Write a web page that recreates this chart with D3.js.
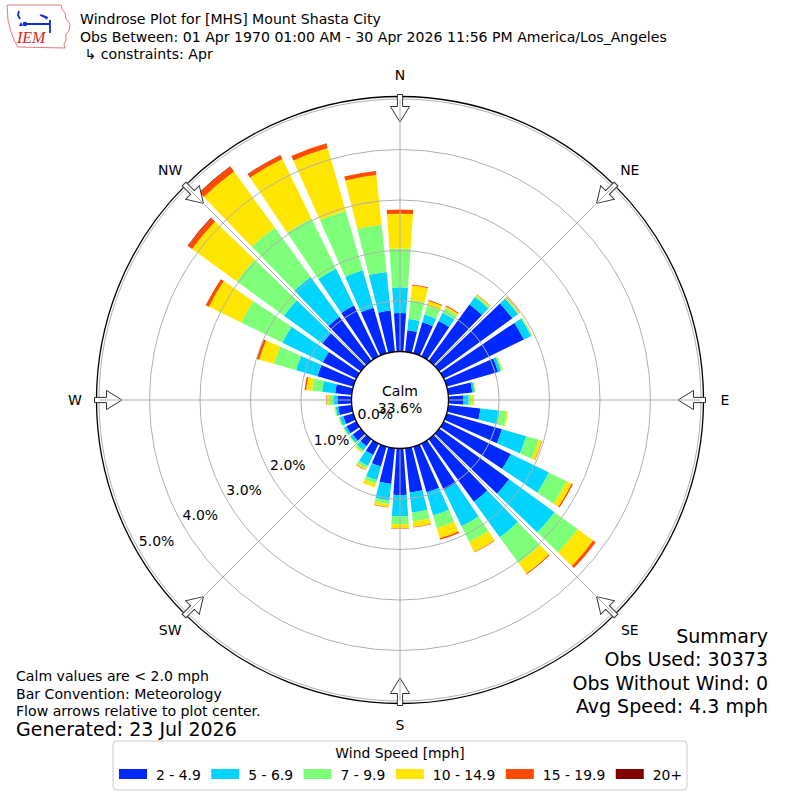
<!DOCTYPE html>
<html><head><meta charset="utf-8">
<script src="https://cdn.jsdelivr.net/npm/d3@7"></script>
<style>body{margin:0;background:#fff} svg text{font-family:"DejaVu Sans",sans-serif;fill:#000}</style>
</head><body><svg id="chart" width="800" height="800"></svg>
<script>
// ---------------- data ----------------
const directions = [0,10,20,30,40,50,60,70,80,90,100,110,120,130,140,150,160,170,180,190,200,210,220,230,240,250,260,270,280,290,300,310,320,330,340,350];
const speedBins = ["2 - 4.9","5 - 6.9","7 - 9.9","10 - 14.9","15 - 19.9","20+"];
const binColors = ["#0028ff","#00d4ff","#7dff7a","#ffe600","#ff4a00","#800000"];
// percent of observations per direction, per speed bin
const pct_2_5   = [0.76,0.43,0.64,0.78,1.38,1.79,1.77,1.06,0.48,0.29,0.64,1.14,1.48,1.71,1.53,1.02,0.94,0.88,0.92,0.71,0.41,0.25,0.17,0.20,0.22,0.21,0.27,0.28,0.33,0.74,0.74,0.94,1.08,1.12,0.94,0.82];
const pct_5_7   = [0.51,0.22,0.16,0.18,0.18,0.14,0.16,0.06,0.04,0.11,0.38,0.50,0.84,1.11,0.87,0.80,0.48,0.40,0.42,0.33,0.28,0.24,0.10,0.06,0.05,0.07,0.05,0.08,0.26,0.44,0.89,0.94,0.97,0.81,0.77,0.77];
const pct_7_10  = [0.77,0.38,0.18,0.10,0.04,0.02,0.02,0.02,0.02,0.06,0.14,0.26,0.39,0.57,0.63,0.35,0.26,0.18,0.16,0.07,0.08,0.06,0.04,0.02,0.02,0.02,0.02,0.09,0.20,0.46,0.91,1.16,1.21,1.11,1.23,0.94];
const pct_10_15 = [0.69,0.29,0.10,0.04,0.02,0.02,0.01,0.02,0.01,0.05,0.03,0.06,0.11,0.38,0.26,0.22,0.21,0.11,0.08,0.06,0.07,0.03,0.02,0.01,0.01,0.01,0.01,0.04,0.12,0.30,0.71,1.09,1.37,1.31,1.29,0.99];
const pct_15_20 = [0.08,0.02,0.02,0.02,0.01,0.01,0.00,0.00,0.00,0.00,0.00,0.01,0.03,0.06,0.02,0.01,0.03,0.01,0.01,0.01,0.00,0.01,0.00,0.00,0.00,0.00,0.00,0.01,0.03,0.05,0.07,0.10,0.12,0.08,0.10,0.08];
const pct_20p   = [0,0,0,0,0,0,0,0,0,0,0,0,0,0,0,0,0,0,0,0,0,0,0,0,0,0,0,0,0,0,0,0.01,0.01,0.01,0,0];
const radialTicks = [0,1,2,3,4,5];
const compassLabels = ["N","NE","E","SE","S","SW","W","NW"];
const compassAngles = [0,45,90,135,180,225,270,315];
const calmPct = "33.6%";
const titleLines = ["Windrose Plot for [MHS] Mount Shasta City",
  "Obs Between: 01 Apr 1970 01:00 AM - 30 Apr 2026 11:56 PM America/Los_Angeles",
  " \u21B3 constraints: Apr"];
const noteLines = ["Calm values are < 2.0 mph","Bar Convention: Meteorology","Flow arrows relative to plot center."];
const generatedText = "Generated: 23 Jul 2026";
const summaryLines = ["Summary","Obs Used: 30373","Obs Without Wind: 0","Avg Speed: 4.3 mph"];

// ---------------- layout ----------------
const svg = d3.select("#chart");
const cx = 400, cy = 400;
const rScale = d3.scaleLinear().domain([0,5]).range([48.5,301]);
const aScale = d3.scaleLinear().domain([0,360]).range([0,2*Math.PI]);
const halfWidth = 4; // degrees (80% opening of 10 deg sector)

const series = [pct_2_5,pct_5_7,pct_7_10,pct_10_15,pct_15_20,pct_20p];
const table = directions.map((d,i)=>{const o={dir:d}; speedBins.forEach((b,j)=>o[b]=series[j][i]); return o;});
const stacked = d3.stack().keys(speedBins)(table);

const g = svg.append("g").attr("transform",`translate(${cx},${cy})`);
const arc = d3.arc();

// bars
stacked.forEach((layer,j)=>{
  g.append("g").selectAll("path").data(layer.filter(d=>d[1]-d[0]>0)).join("path")
    .attr("d",d=>arc({innerRadius:rScale(d[0]),outerRadius:rScale(d[1]),
       startAngle:aScale(d.data.dir-halfWidth),endAngle:aScale(d.data.dir+halfWidth)}))
    .attr("fill",binColors[j]);
});

// grid circles
g.append("g").selectAll("circle").data(radialTicks.filter(t=>t>0)).join("circle")
  .attr("r",d=>rScale(d)).attr("fill","none").attr("stroke","#b0b0b0").attr("stroke-width",1);

// outer frame
g.append("circle").attr("r",rScale(5)+2.5).attr("fill","none").attr("stroke","#000").attr("stroke-width",1.3);

// arrows
const shaftHalf=2.6, headHalf=9.6, rBase=rScale(5)+4.5, rNeck=rScale(5)-7.5, rTip=rScale(5)-23;
const arrowPath = `M${-shaftHalf},${-rBase} L${shaftHalf},${-rBase} L${shaftHalf},${-rNeck} L${headHalf},${-rNeck} L0,${-rTip} L${-headHalf},${-rNeck} L${-shaftHalf},${-rNeck} Z`;
g.append("g").selectAll("path").data(compassAngles).join("path")
  .attr("d",arrowPath).attr("transform",d=>`rotate(${d})`)
  .attr("fill","#fff").attr("stroke","#333").attr("stroke-width",1);

// spokes
g.append("g").selectAll("line").data(compassAngles).join("line")
  .attr("x1",d=>rScale(0)*Math.sin(aScale(d))).attr("y1",d=>-rScale(0)*Math.cos(aScale(d)))
  .attr("x2",d=>rScale(5)*Math.sin(aScale(d))).attr("y2",d=>-rScale(5)*Math.cos(aScale(d)))
  .attr("stroke","#b0b0b0").attr("stroke-width",1);

// calm circle
g.append("circle").attr("r",rScale(0)).attr("fill","#fff").attr("stroke","#000").attr("stroke-width",1.3);
g.append("text").attr("x",0).attr("y",-9).attr("text-anchor","middle").attr("dominant-baseline","central").attr("font-size",14).text("Calm");
g.append("text").attr("x",0).attr("y",8).attr("text-anchor","middle").attr("dominant-baseline","central").attr("font-size",14).text(calmPct);

// radial labels
const labAng = aScale(240);
g.append("g").selectAll("text").data(radialTicks).join("text")
  .attr("x",d=>(rScale(d)-20)*Math.sin(labAng)).attr("y",d=>-(rScale(d)-20)*Math.cos(labAng))
  .attr("text-anchor","middle").attr("dominant-baseline","central").attr("font-size",14)
  .text(d=>d3.format(".1f")(d)+"%");

// compass labels
g.append("g").selectAll("text").data(compassLabels).join("text")
  .attr("x",(d,i)=>325*Math.sin(aScale(compassAngles[i])))
  .attr("y",(d,i)=>-325*Math.cos(aScale(compassAngles[i])))
  .attr("text-anchor","middle").attr("dominant-baseline","central").attr("font-size",14).text(d=>d);

// title
svg.append("g").selectAll("text").data(titleLines).join("text")
  .attr("x",80).attr("y",(d,i)=>19+i*17.5).attr("dominant-baseline","central").attr("font-size",14.1)
  .attr("xml:space","preserve").style("white-space","pre").text(d=>d);

// logo
const logo = svg.append("g");
logo.append("path").attr("d","M7,5 L61,5 L62,9 L65,13 L66,19 L70,24 L69,31 L66,34 L66,40 L64,44 L65,48 L18,47 L15,42 L11,32 L8,20 Z")
  .attr("fill","none").attr("stroke","#e87878").attr("stroke-width",1);
logo.append("path").attr("d","M19,11 L18,15 L20,19 M24,24 L50,24 M50,20 L50,33 M40,15 L47,18")
  .attr("fill","none").attr("stroke","#1030d0").attr("stroke-width",1.8);
logo.append("path").attr("d","M41,14 L48,17 L47,20 Z").attr("fill","#1030d0");
logo.append("circle").attr("cx",25).attr("cy",24).attr("r",2.3).attr("fill","#1030d0");
logo.append("path").attr("d","M19,26 L21,22 L23,26 Z").attr("fill","#1030d0");
logo.append("text").attr("x",17).attr("y",43).attr("font-size",16).style("font-family","'Liberation Serif',serif")
  .style("font-style","italic").style("fill","#dd2222").text("IEM");

// notes
svg.append("g").selectAll("text").data(noteLines).join("text")
  .attr("x",16).attr("y",(d,i)=>676+i*17.5).attr("dominant-baseline","central").attr("font-size",14.1).text(d=>d);
svg.append("text").attr("x",16).attr("y",729).attr("dominant-baseline","central").attr("font-size",19).text(generatedText);

// summary
svg.append("g").selectAll("text").data(summaryLines).join("text")
  .attr("x",768).attr("y",(d,i)=>636+i*23.4).attr("text-anchor","end").attr("dominant-baseline","central")
  .attr("font-size",19).text(d=>d);

// legend
const lg = svg.append("g");
lg.append("rect").attr("x",113).attr("y",741).attr("width",574).attr("height",49).attr("rx",4)
  .attr("fill","#fff").attr("stroke","#cccccc").attr("stroke-width",1);
lg.append("text").attr("x",400).attr("y",753).attr("text-anchor","middle").attr("dominant-baseline","central")
  .attr("font-size",13.9).text("Wind Speed [mph]");
let lx = 119;
speedBins.forEach((b,j)=>{
  lg.append("rect").attr("x",lx).attr("y",769).attr("width",28).attr("height",10).attr("fill",binColors[j]);
  const t = lg.append("text").attr("x",lx+37).attr("y",774.5).attr("dominant-baseline","central").attr("font-size",13.9).text(b);
  lx = lx + 37 + t.node().getComputedTextLength() + 10.5;
});
</script></body></html>
